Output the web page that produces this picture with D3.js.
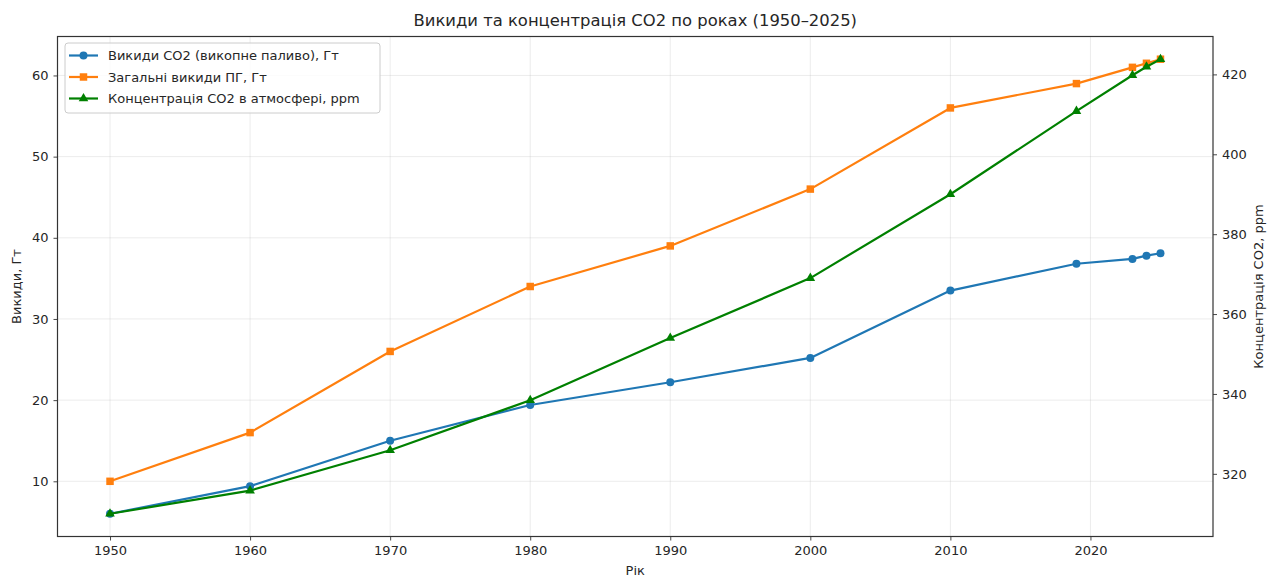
<!DOCTYPE html>
<html>
<head>
<meta charset="utf-8">
<script src="https://cdn.jsdelivr.net/npm/d3@7"></script>
<style>
  body { margin: 0; background: #fff; }
  text { font-family: "DejaVu Sans", sans-serif; fill: #262626; }
</style>
</head>
<body>
<div id="chart"></div>
<script>
const years = [1950, 1960, 1970, 1980, 1990, 2000, 2010, 2019, 2023, 2024, 2025];
const fossilCO2 = [6.0, 9.4, 15.0, 19.4, 22.2, 25.2, 33.5, 36.8, 37.4, 37.8, 38.1];
const totalGHG = [10, 16, 26, 34, 39, 46, 56, 59, 61, 61.5, 62];
const concentration = [310, 315.8, 325.9, 338.4, 354, 369, 390, 410.8, 419.8, 421.9, 423.8];
const xTicks = [1950, 1960, 1970, 1980, 1990, 2000, 2010, 2020];
const leftTicks = [10, 20, 30, 40, 50, 60];
const rightTicks = [320, 340, 360, 380, 400, 420];
const labels = ['Викиди CO2 (викопне паливо), Гт', 'Загальні викиди ПГ, Гт', 'Концентрація CO2 в атмосфері, ppm'];

const W = 1268, H = 579;
const pLeft = 57.5, pRight = 1213, pTop = 36.5, pBottom = 536.5;

// matplotlib-style 5% margins
function pad(ext) {
  const m = (ext[1] - ext[0]) * 0.05;
  return [ext[0] - m, ext[1] + m];
}

const svg = d3.select('#chart').append('svg')
  .attr('width', W)
  .attr('height', H);

const x = d3.scaleLinear().domain(pad(d3.extent(years))).range([pLeft, pRight]);
const yL = d3.scaleLinear()
  .domain(pad(d3.extent([...fossilCO2, ...totalGHG])))
  .range([pBottom, pTop]);
const yR = d3.scaleLinear().domain(pad(d3.extent(concentration))).range([pBottom, pTop]);

// grid
const grid = svg.append('g').attr('stroke', '#b0b0b0').attr('stroke-opacity', 0.3).attr('stroke-width', 0.8);
grid.selectAll('.gx').data(xTicks).join('line')
  .attr('class', 'gx')
  .attr('x1', d => x(d)).attr('x2', d => x(d))
  .attr('y1', pTop).attr('y2', pBottom);
grid.selectAll('.gy').data(leftTicks).join('line')
  .attr('class', 'gy')
  .attr('x1', pLeft).attr('x2', pRight)
  .attr('y1', d => yL(d)).attr('y2', d => yL(d));

function styleAxis(g) {
  g.select('.domain').remove();
  g.selectAll('.tick line').attr('stroke', '#333').attr('stroke-width', 0.9);
  g.selectAll('.tick text').attr('font-size', '13px').attr('fill', '#262626');
}

svg.append('g')
  .attr('transform', `translate(0,${pBottom})`)
  .call(d3.axisBottom(x).tickValues(xTicks).tickFormat(d3.format('d')).tickSize(4).tickPadding(5))
  .call(styleAxis);

svg.append('g')
  .attr('transform', `translate(${pLeft},0)`)
  .call(d3.axisLeft(yL).tickValues(leftTicks).tickSize(4).tickPadding(5))
  .call(styleAxis);

svg.append('g')
  .attr('transform', `translate(${pRight},0)`)
  .call(d3.axisRight(yR).tickValues(rightTicks).tickSize(4).tickPadding(5))
  .call(styleAxis);

// frame
svg.append('rect')
  .attr('x', pLeft).attr('y', pTop)
  .attr('width', pRight - pLeft).attr('height', pBottom - pTop)
  .attr('fill', 'none').attr('stroke', '#333').attr('stroke-width', 1.2);

const series = [
  { values: fossilCO2, y: yL, color: '#1f77b4', marker: 'circle' },
  { values: totalGHG, y: yL, color: '#ff7f0e', marker: 'square' },
  { values: concentration, y: yR, color: '#008000', marker: 'triangle' }
];

function markerPath(type) {
  if (type === 'circle') return d3.symbol(d3.symbolCircle, 50)();
  if (type === 'square') return d3.symbol(d3.symbolSquare, 56)();
  return d3.symbol(d3.symbolTriangle, 40)();
}

series.forEach(s => {
  const line = d3.line().x((d, i) => x(years[i])).y(d => s.y(d));
  svg.append('path')
    .datum(s.values)
    .attr('d', line)
    .attr('fill', 'none')
    .attr('stroke', s.color)
    .attr('stroke-width', 2.2)
    .attr('stroke-linejoin', 'round');
  svg.append('g').selectAll('path')
    .data(s.values)
    .join('path')
    .attr('transform', (d, i) => `translate(${x(years[i])},${s.y(d)})`)
    .attr('d', markerPath(s.marker))
    .attr('fill', s.color);
});

// legend
const lg = svg.append('g').attr('transform', 'translate(65,43)');
lg.append('rect')
  .attr('width', 315).attr('height', 70).attr('rx', 3)
  .attr('fill', '#fff').attr('fill-opacity', 0.8)
  .attr('stroke', '#ccc').attr('stroke-width', 1);
series.forEach((s, i) => {
  const yy = 12.5 + i * 21.5;
  lg.append('line')
    .attr('x1', 4).attr('x2', 33).attr('y1', yy).attr('y2', yy)
    .attr('stroke', s.color).attr('stroke-width', 2.2);
  lg.append('path')
    .attr('transform', `translate(18.5,${yy})`)
    .attr('d', markerPath(s.marker))
    .attr('fill', s.color);
  lg.append('text')
    .attr('x', 43).attr('y', yy).attr('dy', '0.35em')
    .attr('font-size', '13px')
    .text(labels[i]);
});

// titles
svg.append('text')
  .attr('x', (pLeft + pRight) / 2).attr('y', 26)
  .attr('text-anchor', 'middle').attr('font-size', '16.4px')
  .text('Викиди та концентрація CO2 по роках (1950–2025)');

svg.append('text')
  .attr('x', (pLeft + pRight) / 2).attr('y', 575)
  .attr('text-anchor', 'middle').attr('font-size', '13px')
  .text('Рік');

svg.append('text')
  .attr('transform', `translate(21,${(pTop + pBottom) / 2}) rotate(-90)`)
  .attr('text-anchor', 'middle').attr('font-size', '13px')
  .text('Викиди, Гт');

svg.append('text')
  .attr('transform', `translate(1263,${(pTop + pBottom) / 2}) rotate(-90)`)
  .attr('text-anchor', 'middle').attr('font-size', '13px')
  .text('Концентрація CO2, ppm');
</script>
</body>
</html>
